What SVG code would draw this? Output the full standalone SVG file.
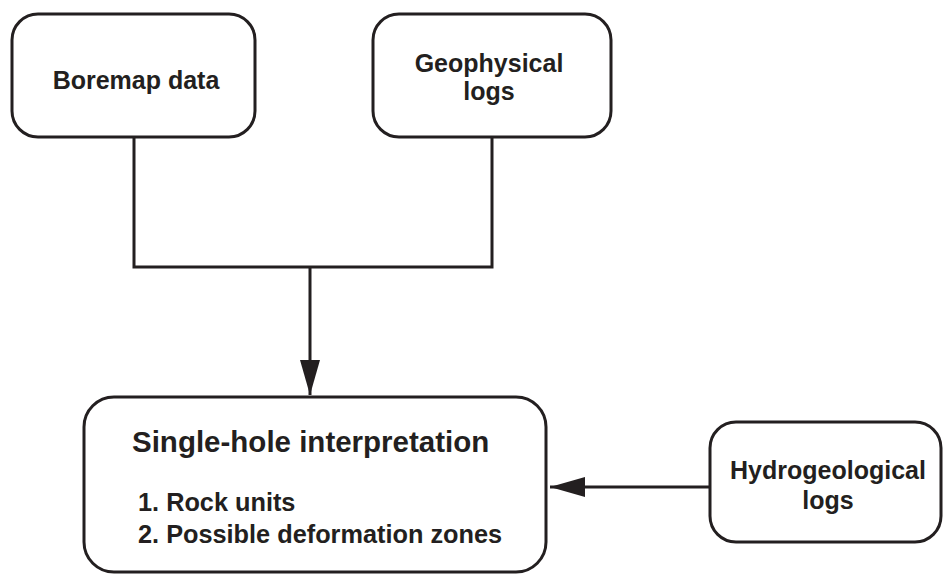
<svg xmlns="http://www.w3.org/2000/svg" width="943" height="574" viewBox="0 0 943 574">
  <style>
    .box { fill: #ffffff; stroke: #231f20; stroke-width: 3; }
    .wire { fill: none; stroke: #231f20; stroke-width: 3; }
    .lbl { font-family: "Liberation Sans", Arial, sans-serif; font-weight: bold; fill: #231f20; }
  </style>
  <defs>
    <marker id="head" markerUnits="userSpaceOnUse" markerWidth="36" markerHeight="22" refX="35" refY="10" orient="auto">
      <path d="M0,0 L35,10 L0,20 Z" fill="#231f20"/>
    </marker>
  </defs>
  <rect width="943" height="574" fill="#ffffff"/>

  <!-- connectors -->
  <g id="connectors">
    <path class="wire" d="M134,137 V267 H492 V137"/>
    <path class="wire" d="M310,267 V395" marker-end="url(#head)"/>
    <path class="wire" d="M710,487 H550" marker-end="url(#head)"/>
  </g>

  <g id="boremap">
    <rect class="box" x="12" y="14" width="243" height="123" rx="26"/>
    <text class="lbl" x="136" y="89" font-size="25" text-anchor="middle">Boremap data</text>
  </g>

  <g id="geophysical">
    <rect class="box" x="373" y="14" width="238" height="123" rx="26"/>
    <text class="lbl" x="489" y="72" font-size="25" text-anchor="middle">Geophysical</text>
    <text class="lbl" x="489" y="100" font-size="25" text-anchor="middle">logs</text>
  </g>

  <g id="single-hole">
    <rect class="box" x="84" y="397" width="462" height="175" rx="30"/>
    <text class="lbl" x="132" y="452" font-size="29.5">Single-hole interpretation</text>
    <text class="lbl" x="138" y="511" font-size="25.3">1. Rock units</text>
    <text class="lbl" x="138" y="543" font-size="25.3">2. Possible deformation zones</text>
  </g>

  <g id="hydrogeological">
    <rect class="box" x="710" y="422" width="231" height="120" rx="26"/>
    <text class="lbl" x="828" y="479" font-size="25" text-anchor="middle">Hydrogeological</text>
    <text class="lbl" x="828" y="509" font-size="25" text-anchor="middle">logs</text>
  </g>
</svg>
